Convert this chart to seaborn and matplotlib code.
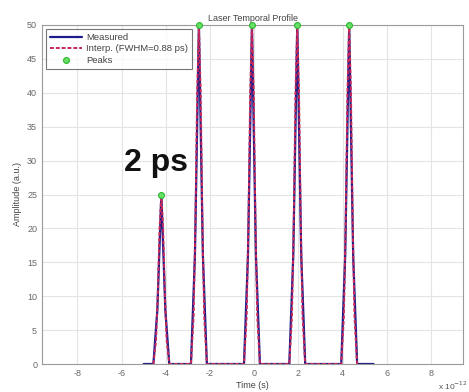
import matplotlib
matplotlib.use("Agg")
import matplotlib.pyplot as plt
import seaborn as sns
import pandas as pd

# ---- data (time in units of 1e-12 s) ----
measured_t = [-5.0, -4.56, -4.38, -4.2, -4.02, -3.84, -2.86, -2.68, -2.5, -2.32, -2.14,
              -0.46, -0.28, -0.1, 0.08, 0.26, 1.59, 1.77, 1.95, 2.13, 2.31,
              3.94, 4.12, 4.3, 4.48, 4.66, 5.4]
measured_a = [0, 0, 8, 25, 8, 0, 0, 16, 50, 16, 0,
              0, 16, 50, 16, 0, 0, 16, 50, 16, 0,
              0, 16, 50, 16, 0, 0]

interp_t = [-4.56, -4.44, -4.36, -4.28, -4.2, -4.12, -4.04, -3.96, -3.84,
            -2.86, -2.74, -2.66, -2.58, -2.5, -2.42, -2.34, -2.26, -2.14,
            -0.46, -0.34, -0.26, -0.18, -0.1, -0.02, 0.06, 0.14, 0.26,
            1.59, 1.71, 1.79, 1.87, 1.95, 2.03, 2.11, 2.19, 2.31,
            3.94, 4.06, 4.14, 4.22, 4.3, 4.38, 4.46, 4.54, 4.66]
interp_a = [0, 3.5, 10.3, 20, 25, 20, 10.3, 3.5, 0,
            0, 7, 20.5, 40, 50, 40, 20.5, 7, 0,
            0, 7, 20.5, 40, 50, 40, 20.5, 7, 0,
            0, 7, 20.5, 40, 50, 40, 20.5, 7, 0,
            0, 7, 20.5, 40, 50, 40, 20.5, 7, 0]

peak_t = [-4.2, -2.5, -0.1, 1.95, 4.3]
peak_a = [25, 50, 50, 50, 50]

x_ticks = [-8, -6, -4, -2, 0, 2, 4, 6, 8]
y_ticks = [0, 5, 10, 15, 20, 25, 30, 35, 40, 45, 50]

sns.set_style("white")
plt.rcParams['font.family'] = ['Liberation Sans', 'DejaVu Sans']
plt.rcParams['axes.unicode_minus'] = False

fig = plt.figure(figsize=(4.69, 3.92), dpi=100)
ax = fig.add_axes([42 / 469, 1 - 364 / 392, (463 - 42) / 469, (364 - 25) / 392])

df_m = pd.DataFrame({"t": measured_t, "a": measured_a})
df_i = pd.DataFrame({"t": interp_t, "a": interp_a})
df_p = pd.DataFrame({"t": peak_t, "a": peak_a})

sns.lineplot(data=df_m, x="t", y="a", ax=ax, color="#1c1c8a", linewidth=1.6,
             estimator=None, sort=False, label="Measured")
sns.lineplot(data=df_i, x="t", y="a", ax=ax, color="#c8285a", linewidth=1.4,
             estimator=None, sort=False, label="Interp. (FWHM=0.88 ps)")
ax.lines[-1].set_dashes([2, 1])
sns.scatterplot(data=df_p, x="t", y="a", ax=ax, color="#66e066", edgecolor="#2fb52f",
                s=18, linewidth=0.8, zorder=5, label="Peaks", clip_on=False)

ax.set_xlim(-9.6, 9.45)
ax.set_ylim(0, 50)
ax.set_xticks(x_ticks)
ax.set_yticks(y_ticks)
ax.grid(True, color="#e4e4e4", linewidth=0.8)
ax.tick_params(axis="both", labelsize=6.5, colors="#666666", length=2, direction="in")
for s in ax.spines.values():
    s.set_color("#9a9a9a")
    s.set_linewidth(0.8)

ax.set_xlabel("Time (s)", fontsize=6.5, color="#444444", labelpad=2)
ax.set_ylabel("Amplitude (a.u.)", fontsize=6.5, color="#444444", labelpad=4)
ax.set_title("Laser Temporal Profile", fontsize=6.5, color="#444444", pad=3)

fig.text(438 / 469, 1 - 386 / 392, "x 10$^{-12}$", fontsize=6, color="#555555",
         va="center", ha="left")

ax.text(-4.45, 29.6, "2 ps", fontsize=23, fontweight="bold", color="#111111",
        ha="center", va="center")

leg = ax.legend(loc="upper left", fontsize=6.8, frameon=True, fancybox=False,
                borderpad=0.45, labelspacing=0.25, handlelength=3.4, handletextpad=0.4,
                borderaxespad=0.4)
leg.get_frame().set_edgecolor("#555555")
leg.get_frame().set_linewidth(0.8)
for t in leg.get_texts():
    t.set_color("#444444")

fig.savefig("out.png", dpi=100)
